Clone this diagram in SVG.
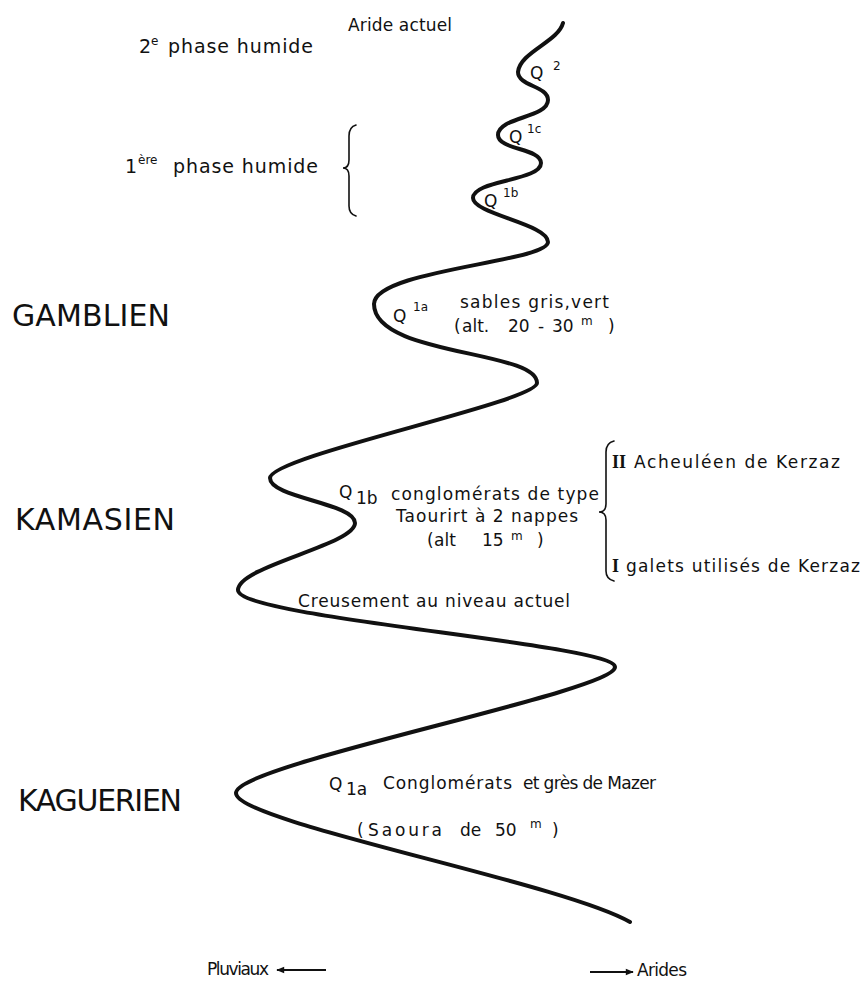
<svg xmlns="http://www.w3.org/2000/svg" width="862" height="983" viewBox="0 0 862 983">
  <style>
    .t { font-family: "DejaVu Sans", "Liberation Sans", sans-serif; fill: #111; font-size: 17px; }
    .big { font-size: 30px; }
    .mid { font-size: 19px; }
    .sup { font-size: 12px; }
    .rom { font-family: "Liberation Serif", "DejaVu Serif", serif; font-weight: bold; fill: #111; font-size: 18px; }
    .curve { fill: none; stroke: #111; stroke-width: 4; stroke-linecap: round; stroke-linejoin: round; }
    .brace { fill: none; stroke: #111; stroke-width: 1.6; stroke-linecap: round; }
    .arrow { fill: none; stroke: #111; stroke-width: 2.2; }
  </style>
  <defs>
    <marker id="head" viewBox="0 0 10 10" refX="9" refY="5" markerWidth="10" markerHeight="8" markerUnits="userSpaceOnUse" orient="auto">
      <path d="M0,1 L10,5 L0,9 Z" fill="#111"/>
    </marker>
  </defs>
  <rect width="862" height="983" fill="#fff"/>

  <!-- climatic oscillation curve -->
  <g id="connectors">
    <path class="curve" d="M563,23 C558,42 520,52 518,72 C518,86 548,86 548,100 C548,118 498,117 498,135 C498,150 541,148 541,163 C541,181 473,180 473,198 C473,214 548,224 548,242 C548,262 374,270 374,304 C374,356 537,350 537,383 C537,402 270,456 270,478 C270,498 355,503 355,523 C355,545 238,566 238,590 C238,618 615,644 615,667 C615,692 236,764 236,793 C236,822 560,882 630,922"/>
    <path class="arrow" d="M326,970 L277,970" marker-end="url(#head)"/>
    <path class="arrow" d="M590,972 L633,972" marker-end="url(#head)"/>
  </g>

  <!-- top labels -->
  <g id="aride-actuel"><text class="t" x="348" y="31" font-size="18" textLength="104">Aride actuel</text></g>
  <g id="phase2">
    <text class="t mid" x="139" y="53">2</text>
    <text class="t sup" x="151" y="45">e</text>
    <text class="t mid" x="168" y="53" textLength="145">phase humide</text>
  </g>
  <g id="phase1">
    <text class="t mid" x="125" y="173">1</text>
    <text class="t sup" x="138" y="164">ère</text>
    <text class="t mid" x="173" y="173" textLength="145">phase humide</text>
    <path class="brace" d="M356,125 Q349,127 349,136 L349,160 Q349,168 343,168 Q349,168 349,176 L349,206 Q349,214 356,216"/>
  </g>
  <g id="q2">
    <text class="t" x="530" y="79" font-size="18">Q</text>
    <text class="t sup" x="553" y="70">2</text>
  </g>
  <g id="q1c">
    <text class="t" x="509" y="143" font-size="18">Q</text>
    <text class="t sup" x="527" y="133">1c</text>
  </g>
  <g id="q1b-top">
    <text class="t" x="484" y="207" font-size="18">Q</text>
    <text class="t sup" x="503" y="197">1b</text>
  </g>

  <!-- Gamblien -->
  <g id="gamblien"><text class="t big" x="12" y="326" textLength="158">GAMBLIEN</text></g>
  <g id="q1a-gamblien">
    <text class="t" x="393" y="322" font-size="18">Q</text>
    <text class="t sup" x="413" y="311">1a</text>
    <text class="t" x="460" y="308" textLength="149">sables gris,vert</text>
    <text class="t" x="454" y="332">(</text>
    <text class="t" x="462" y="332" font-size="18">alt.</text>
    <text class="t" x="508" y="332" font-size="18">20</text>
    <text class="t" x="538" y="332" font-size="18">-</text>
    <text class="t" x="552" y="332" font-size="18">30</text>
    <text class="t sup" x="581" y="325" font-size="13">m</text>
    <text class="t" x="608" y="332" font-size="18">)</text>
  </g>

  <!-- Kamasien -->
  <g id="kamasien"><text class="t big" x="15" y="530" textLength="160">KAMASIEN</text></g>
  <g id="q1b-kamasien">
    <text class="t" x="339" y="498" font-size="17">Q</text>
    <text class="t" x="356" y="504" font-size="11">1b</text>
    <text class="t" x="391" y="500" textLength="208">conglomérats de type</text>
    <text class="t" x="396" y="522" textLength="182">Taourirt à 2 nappes</text>
    <text class="t" x="427" y="546">(</text>
    <text class="t" x="434" y="546">alt</text>
    <text class="t" x="482" y="546">15</text>
    <text class="t sup" x="511" y="540" font-size="13">m</text>
    <text class="t" x="537" y="546">)</text>
  </g>
  <g id="kerzaz">
    <path class="brace" d="M614,441 Q606,443 606,452 L606,504 Q606,512 599,512 Q606,512 606,520 L606,571 Q606,579 614,581"/>
    <text class="rom" x="612" y="468">II</text>
    <text class="t" x="634" y="468" textLength="206">Acheuléen de Kerzaz</text>
    <text class="rom" x="612" y="572">I</text>
    <text class="t" x="626" y="572" textLength="234">galets utilisés de Kerzaz</text>
  </g>
  <g id="creusement"><text class="t" x="298" y="607" textLength="272">Creusement au niveau actuel</text></g>

  <!-- Kaguerien -->
  <g id="kaguerien"><text class="t big" x="18" y="811" textLength="164">KAGUERIEN</text></g>
  <g id="q1a-kaguerien">
    <text class="t" x="329" y="790" font-size="17">Q</text>
    <text class="t" x="346" y="795" font-size="11">1a</text>
    <text class="t" x="383" y="789" textLength="129">Conglomérats</text>
    <text class="t" x="523" y="789" textLength="133">et grès de Mazer</text>
    <text class="t" x="357" y="836" font-size="18">(</text>
    <text class="t" x="368" y="836" font-size="18" textLength="74">Saoura</text>
    <text class="t" x="460" y="836" font-size="18">de</text>
    <text class="t" x="495" y="836" font-size="18">50</text>
    <text class="t sup" x="530" y="828" font-size="13">m</text>
    <text class="t" x="552" y="836" font-size="18">)</text>
  </g>

  <!-- legend -->
  <g id="pluviaux"><text class="t" x="207" y="975" font-size="16" textLength="62">Pluviaux</text></g>
  <g id="arides"><text class="t" x="637" y="976" font-size="16" textLength="50">Arides</text></g>
</svg>
